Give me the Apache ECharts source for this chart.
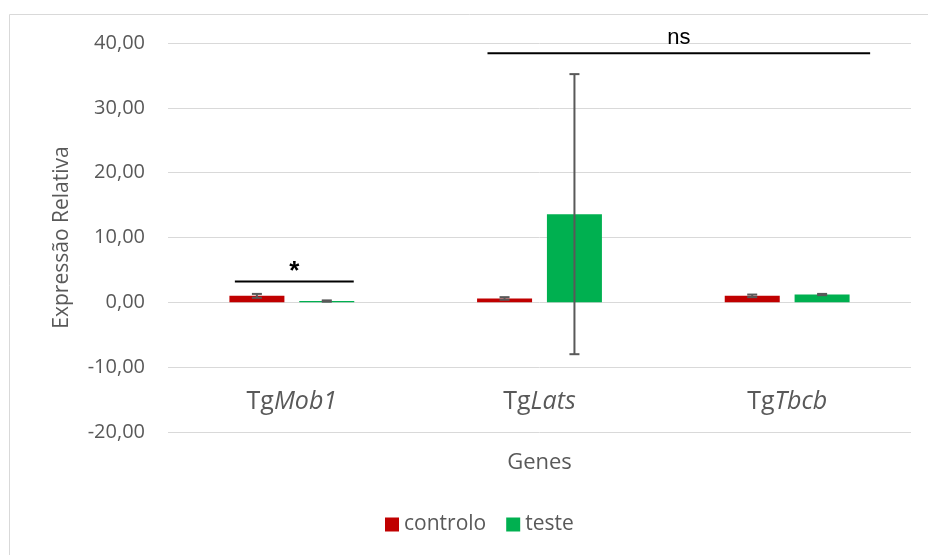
<!DOCTYPE html>
<html><head><meta charset="utf-8">
<script src="https://cdn.jsdelivr.net/npm/echarts@6/dist/echarts.min.js"></script>
<style>html,body{margin:0;padding:0;background:#fff}#c{width:928px;height:555px}</style>
</head><body><div id="c"></div>
<script>
const categories = ['Mob1', 'Lats', 'Tbcb'];
const controlo = [1.0, 0.6, 1.0];
const controloErr = [0.3, 0.2, 0.2];
const teste = [0.2, 13.6, 1.2];
const testeErr = [0.1, 21.6, 0.1];
const yTicks = [-20, -10, 0, 10, 20, 30, 40];
// significance annotations: [startCategory, endCategory, yValue, label]
const sigStart = [-0.23, 0.79];
const sigEnd = [0.25, 2.335];
const sigY = [3.2, 38.4];
const sigLabel = ['*', 'ns'];

const font = '"Open Sans", sans-serif';
const txt = '#595959';

function errSeries(name, vals, errs, offset) {
  return {
    type: 'custom', name: name + 'err', z: 5, silent: true,
    data: vals.map((v, i) => [i, v, errs[i]]),
    renderItem: function (params, api) {
      const i = api.value(0), v = api.value(1), e = api.value(2);
      const band = api.size([1, 0])[0];
      const top = api.coord([i, v + e]);
      const bot = api.coord([i, v - e]);
      const x = top[0] + offset * band;
      const cw = 5;
      const st = { stroke: '#595959', lineWidth: 2 };
      return { type: 'group', children: [
        { type: 'line', shape: { x1: x, y1: top[1], x2: x, y2: bot[1] }, style: st },
        { type: 'line', shape: { x1: x - cw, y1: top[1], x2: x + cw, y2: top[1] }, style: st },
        { type: 'line', shape: { x1: x - cw, y1: bot[1], x2: x + cw, y2: bot[1] }, style: st }
      ]};
    }
  };
}

const chart = echarts.init(document.getElementById('c'));
chart.setOption({
  animation: false,
  graphic: [{ type: 'rect', shape: { x: 9.5, y: 14.5, width: 940, height: 560 }, style: { fill: 'none', stroke: '#D9D9D9', lineWidth: 1 }, silent: true }],
  grid: { left: 168, right: 17, top: 43, bottom: 123 },
  legend: {
    bottom: 15, left: 380, itemWidth: 14, itemHeight: 14, itemGap: 20,
    icon: 'rect',
    data: ['controlo', 'teste'],
    textStyle: { color: txt, fontSize: 21, fontFamily: font }
  },
  xAxis: {
    type: 'category', data: categories,
    name: 'Genes', nameLocation: 'middle', nameGap: 20,
    nameTextStyle: { color: txt, fontSize: 22, fontFamily: font },
    axisLine: { show: false }, axisTick: { show: false },
    axisLabel: {
      margin: -43, color: txt, fontSize: 25, fontFamily: font,
      formatter: v => '{n|Tg}{i|' + v + '}',
      rich: { n: { fontSize: 25, color: txt, fontFamily: font }, i: { fontSize: 25, color: txt, fontFamily: font, fontStyle: 'italic' } }
    }
  },
  yAxis: {
    type: 'value', min: -20, max: 40, interval: 10,
    name: 'Expressão Relativa', nameLocation: 'middle', nameGap: 95,
    nameTextStyle: { color: txt, fontSize: 21, fontFamily: font },
    axisLine: { show: false }, axisTick: { show: false },
    splitLine: { lineStyle: { color: '#D9D9D9', width: 1 } },
    axisLabel: { margin: 23, color: txt, fontSize: 20, fontFamily: font,
      formatter: v => v.toFixed(2).replace('.', ',') }
  },
  series: [
    { name: 'controlo', type: 'bar', data: controlo, barWidth: 55, barGap: '27%', itemStyle: { color: '#C00000' } },
    { name: 'teste', type: 'bar', data: teste, barWidth: 55, barGap: '27%', itemStyle: { color: '#00B050' } },
    errSeries('controlo', controlo, controloErr, -0.1411),
    errSeries('teste', teste, testeErr, 0.1411),
    {
      type: 'custom', z: 6, silent: true,
      data: sigY.map((y, i) => [sigStart[i], sigEnd[i], y, i]),
      renderItem: function (params, api) {
        const s = api.value(0), e = api.value(1), y = api.value(2), k = api.value(3);
        const band = api.size([1, 0])[0];
        const p0 = api.coord([0, y]);
        const x1 = p0[0] + s * band, x2 = p0[0] + e * band;
        const lab = sigLabel[k];
        return { type: 'group', children: [
          { type: 'line', shape: { x1: x1, y1: p0[1], x2: x2, y2: p0[1] }, style: { stroke: '#000', lineWidth: 2 } },
          { type: 'text', style: { text: lab, x: (x1 + x2) / 2, y: p0[1] + (lab === '*' ? 3 : -4), align: 'center', verticalAlign: 'bottom',
            fill: '#000', font: (lab === '*' ? 'bold 26px ' : '22px ') + '"Liberation Sans", Arial, sans-serif' } }
        ]};
      }
    }
  ]
});
</script></body></html>
